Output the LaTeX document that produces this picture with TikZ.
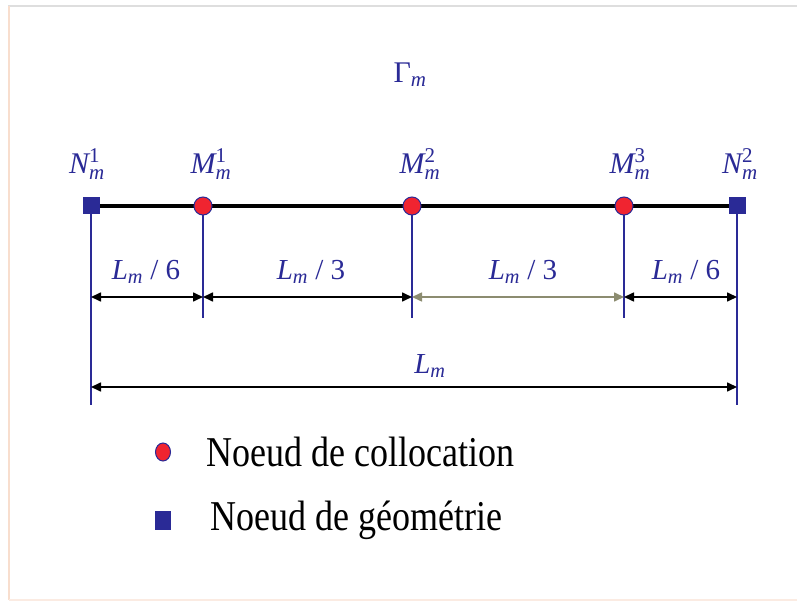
\documentclass[tikz,border=0pt]{standalone}
\usepackage{amsmath}
\usepackage{fontspec}
\setmainfont{Liberation Serif}
\usetikzlibrary{arrows.meta}
\definecolor{navy}{RGB}{42,42,150}
\definecolor{redpt}{RGB}{240,36,48}
\definecolor{olive}{RGB}{140,140,112}
\definecolor{framegray}{RGB}{222,222,222}
\definecolor{framepeach}{RGB}{248,222,206}
\newcommand{\lbl}[2]{$\textit{#1}^{\text{#2}}_{\textit{m}}$}
\newcommand{\dimlbl}[1]{$\textit{L}_{\textit{m}}$ / #1}
\tikzset{
  colpt/.style={circle, draw=navy, fill=redpt, line width=1pt, minimum size=18pt, inner sep=0pt},
  geopt/.style={rectangle, fill=navy, minimum size=17pt, inner sep=0pt},
  toplbl/.style={text=navy, font=\fontsize{30}{33}\selectfont, inner sep=0pt},
  dimtext/.style={text=navy, font=\fontsize{29}{32}\selectfont, inner sep=0pt},
  vline/.style={navy, line width=1.3pt},
  dimarrow/.style={black, line width=1.6pt, {Triangle[length=10pt,width=9pt]}-{Triangle[length=10pt,width=9pt]}},
  legtext/.style={text=black, font=\fontsize{36}{39}\selectfont, anchor=west, inner sep=0pt}
}
\begin{document}
\begin{tikzpicture}[x=1pt,y=-1pt]
\useasboundingbox (0,0) rectangle (797,601);
\fill[white] (0,0) rectangle (797,601);
% frame
\draw[framegray, line width=2.5pt] (8,6) -- (797,6);
\draw[framepeach, line width=2pt] (9,6) -- (9,600);
\draw[framepeach!60, line width=1.5pt] (9,600) -- (797,600);

% coordinates along the element
\coordinate (pN1) at (91,206);
\coordinate (pM1) at (203,206);
\coordinate (pM2) at (412,206);
\coordinate (pM3) at (624,206);
\coordinate (pN2) at (737,206);

% extension lines
\coordinate (eN1) at (91,405);
\coordinate (eM1) at (203,318);
\coordinate (eM2) at (412,318);
\coordinate (eM3) at (624,318);
\coordinate (eN2) at (737,405);
\draw[vline] (pN1) -- (eN1);
\draw[vline] (pM1) -- (eM1);
\draw[vline] (pM2) -- (eM2);
\draw[vline] (pM3) -- (eM3);
\draw[vline] (pN2) -- (eN2);

% main element line
\draw[black, line width=3.5pt] (pN1) -- (pN2);

% nodes
\node[geopt] (N1) at (pN1) {};
\node[colpt] (M1) at (pM1) {};
\node[colpt] (M2) at (pM2) {};
\node[colpt] (M3) at (pM3) {};
\node[geopt] (N2) at (pN2) {};

% labels
\node[toplbl] (lN1) at (87,164) {\lbl{N}{1}};
\node[toplbl] (lM1) at (211,164) {\lbl{M}{1}};
\node[toplbl] (lM2) at (420,164) {\lbl{M}{2}};
\node[toplbl] (lM3) at (630,164) {\lbl{M}{3}};
\node[toplbl] (lN2) at (740,164) {\lbl{N}{2}};
\node[toplbl] (gam) at (410,75) {$\text{Γ}_{\textit{m}}$};

% dimension arrows
\coordinate (d0) at (91,297);
\coordinate (d1) at (203,297);
\coordinate (d2) at (412,297);
\coordinate (d3) at (624,297);
\coordinate (d4) at (737,297);
\draw[dimarrow] (d0) -- (d1);
\draw[dimarrow] (d1) -- (d2);
\draw[dimarrow, draw=olive] (d2) -- (d3);
\draw[dimarrow] (d3) -- (d4);
\coordinate (t0) at (91,387);
\coordinate (t1) at (737,387);
\draw[dimarrow] (t0) -- (t1);

\node[dimtext] (a1) at (146,272) {\dimlbl{6}};
\node[dimtext] (a2) at (311,272) {\dimlbl{3}};
\node[dimtext] (a3) at (523,272) {\dimlbl{3}};
\node[dimtext] (a4) at (686,272) {\dimlbl{6}};
\node[dimtext] (a5) at (430,366) {$\textit{L}_{\textit{m}}$};

% legend
\node[circle, draw=navy, fill=redpt, line width=1pt, minimum size=15pt, inner sep=0pt, yscale=1.2] (legc) at (163,452) {};
\node[rectangle, fill=navy, minimum width=16pt, minimum height=19pt, inner sep=0pt] (legs) at (163,520) {};
\node[legtext] (lt1) at (206,452) {\scalebox{1}[1.18]{Noeud de collocation}};
\node[legtext] (lt2) at (210,520) {\scalebox{1}[1.18]{Noeud de géométrie}};
\end{tikzpicture}
\end{document}
